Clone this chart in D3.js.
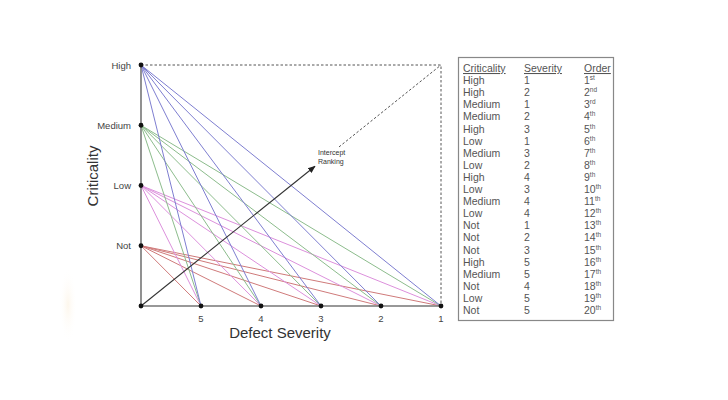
<!DOCTYPE html>
<html><head><meta charset="utf-8">
<script src="https://cdn.jsdelivr.net/npm/d3@7"></script>
<style>body{margin:0;background:#fff}svg{display:block}</style>
</head><body>
<script>
const criticalities = ["Not","Low","Medium","High"];
const severities = [5,4,3,2,1];
const lineColors = ["#cf7a7a","#dc90dc","#8cbc8c","#7e7ed0"];
const tableCrit = ["High","High","Medium","Medium","High","Low","Medium","Low","High","Low","Medium","Low","Not","Not","Not","High","Medium","Not","Low","Not"];
const tableSev = [1,2,1,2,3,1,3,2,4,3,4,4,1,2,3,5,5,4,5,5];
const tableOrder = [1,2,3,4,5,6,7,8,9,10,11,12,13,14,15,16,17,18,19,20];
const headers = ["Criticality","Severity","Order"];

const W=728,H=400;
const svg=d3.select("body").append("svg").attr("width",W).attr("height",H);

// faint artifact at left
const defs=svg.append("defs");
const rg=defs.append("radialGradient").attr("id","blob");
rg.append("stop").attr("offset","0%").attr("stop-color","#fbecd4").attr("stop-opacity",0.45);
rg.append("stop").attr("offset","100%").attr("stop-color","#fff").attr("stop-opacity",0);
svg.append("ellipse").attr("cx",68).attr("cy",305).attr("rx",9).attr("ry",38).attr("fill","url(#blob)");

const x=d3.scaleLinear().domain([6,1]).range([141,441]);
const y=d3.scaleLinear().domain([0,4]).range([306,65]);
const yc=c=>y(criticalities.indexOf(c)+1);

// dashed frame
const g=svg.append("g");
g.append("path").attr("d",`M${x(6)},${y(4)}H${x(1)}V${y(0)}`).attr("fill","none")
 .attr("stroke","#555").attr("stroke-width",1).attr("stroke-dasharray","2.5,2");

// lines
criticalities.forEach((c,i)=>{
  severities.forEach(s=>{
    g.append("line").attr("x1",x(6)).attr("y1",yc(c)).attr("x2",x(s)).attr("y2",y(0))
     .attr("stroke",lineColors[i]).attr("stroke-width",1);
  });
});

// axes
g.append("path").attr("d",`M${x(6)},${y(4)}V${y(0)}H${x(1)}`).attr("fill","none")
 .attr("stroke","#777").attr("stroke-width",1.6);

// intercept arrow
const ax0=x(6),ay0=y(0),ax1=x(1),ay1=y(4);
const lerp=(t)=>[ax0+(ax1-ax0)*t, ay0+(ay1-ay0)*t];
const aEnd=lerp(0.58), dStart=lerp(0.66);
defs.append("marker").attr("id","arr").attr("viewBox","0 0 10 10").attr("refX",9).attr("refY",5)
 .attr("markerWidth",7).attr("markerHeight",7).attr("orient","auto")
 .append("path").attr("d","M0,1L10,5L0,9Z").attr("fill","#222");
g.append("line").attr("x1",ax0).attr("y1",ay0).attr("x2",aEnd[0]).attr("y2",aEnd[1])
 .attr("stroke","#333").attr("stroke-width",1.1).attr("marker-end","url(#arr)");
g.append("line").attr("x1",dStart[0]).attr("y1",dStart[1]).attr("x2",ax1).attr("y2",ay1)
 .attr("stroke","#555").attr("stroke-width",1).attr("stroke-dasharray","2.5,2");
const font="Liberation Sans, Arial, sans-serif";
g.append("text").attr("x",318).attr("y",155).attr("font-family",font).attr("font-size",7).attr("fill","#333").text("Intercept");
g.append("text").attr("x",318).attr("y",164).attr("font-family",font).attr("font-size",7).attr("fill","#333").text("Ranking");

// dots
const pts=[[x(6),y(0)]].concat(criticalities.map(c=>[x(6),yc(c)])).concat(severities.map(s=>[x(s),y(0)]));
g.selectAll("circle.pt").data(pts).enter().append("circle").attr("cx",d=>d[0]).attr("cy",d=>d[1]).attr("r",2.4).attr("fill","#111");

// tick labels
g.selectAll("text.yl").data(criticalities).enter().append("text")
 .attr("x",x(6)-10).attr("y",d=>yc(d)+3.5).attr("text-anchor","end")
 .attr("font-family",font).attr("font-size",9.5).attr("fill","#444").text(d=>d);
g.selectAll("text.xl").data(severities).enter().append("text")
 .attr("x",d=>x(d)).attr("y",y(0)+16).attr("text-anchor","middle")
 .attr("font-family",font).attr("font-size",9.5).attr("fill","#444").text(d=>d);

// axis titles
svg.append("text").attr("transform","translate(98,176) rotate(-90)").attr("text-anchor","middle")
 .attr("font-family",font).attr("font-size",15).attr("fill","#333").text("Criticality");
svg.append("text").attr("x",280).attr("y",338).attr("text-anchor","middle")
 .attr("font-family",font).attr("font-size",15).attr("fill","#333").text("Defect Severity");

// table
svg.append("rect").attr("x",458.5).attr("y",57.5).attr("width",155).attr("height",263)
 .attr("fill","#fff").attr("stroke","#888").attr("stroke-width",1.2);
const cols=[463,524,584];
const tf=10.5, tc="#555";
headers.forEach((h,i)=>{
  svg.append("text").attr("x",cols[i]).attr("y",72).attr("font-family",font).attr("font-size",tf)
    .attr("fill",tc).attr("text-decoration","underline").text(h);
});
const suffix=n=>n===1?"st":n===2?"nd":n===3?"rd":"th";
tableCrit.forEach((c,i)=>{
  const yy=72+12.1*(i+1);
  svg.append("text").attr("x",cols[0]).attr("y",yy).attr("font-family",font).attr("font-size",tf).attr("fill",tc).text(c);
  svg.append("text").attr("x",cols[1]).attr("y",yy).attr("font-family",font).attr("font-size",tf).attr("fill",tc).text(tableSev[i]);
  const t=svg.append("text").attr("x",cols[2]).attr("y",yy).attr("font-family",font).attr("font-size",tf).attr("fill",tc);
  t.append("tspan").text(tableOrder[i]);
  t.append("tspan").attr("dy",-4).attr("font-size",6.5).text(suffix(tableOrder[i]));
});
</script>
</body></html>
